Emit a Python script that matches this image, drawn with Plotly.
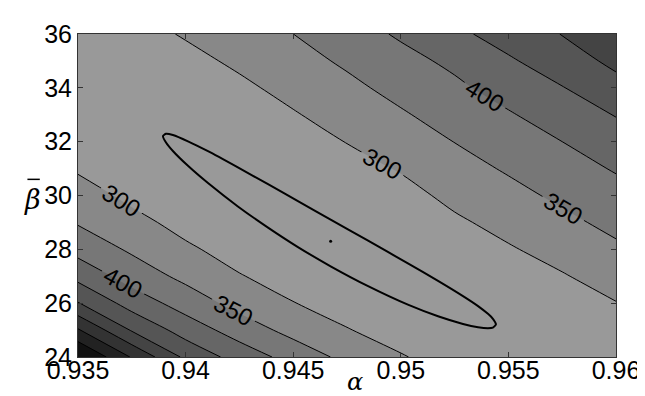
import plotly.graph_objects as go

# ---- data ----
alpha_vals = [0.935, 0.9375, 0.94, 0.9425, 0.945, 0.9475, 0.95, 0.9525, 0.955, 0.9575, 0.96]
beta_vals = [24, 25, 26, 27, 28, 29, 30, 31, 32, 33, 34, 35, 36]

# objective value on the grid, rows = beta (24 -> 36), columns = alpha
z_rows = [
    [710.0, 595.8, 489.4, 428.8, 381.3, 336.1, 303.3, 280.5, 257.3, 233.8, 250.8],
    [605.0, 495.6, 428.1, 377.6, 333.8, 302.2, 281.1, 257.9, 234.1, 249.6, 274.7],
    [502.5, 429.0, 378.2, 333.3, 301.3, 281.0, 260.3, 235.5, 249.0, 273.0, 298.5],
    [434.8, 379.0, 337.4, 302.5, 281.2, 260.5, 239.4, 247.1, 272.2, 296.5, 320.3],
    [383.3, 342.6, 307.1, 282.6, 261.6, 240.0, 241.5, 269.6, 295.4, 317.9, 341.9],
    [345.9, 313.1, 285.7, 263.8, 242.1, 240.4, 262.3, 292.1, 315.7, 338.8, 362.7],
    [319.2, 289.9, 267.0, 245.0, 237.6, 260.8, 283.2, 312.5, 335.5, 359.5, 383.1],
    [294.8, 271.3, 248.4, 234.1, 257.2, 281.3, 304.0, 331.7, 355.3, 379.8, 404.1],
    [276.0, 252.7, 230.0, 252.9, 276.7, 301.5, 324.3, 350.8, 375.4, 400.0, 427.8],
    [257.2, 234.0, 248.9, 271.7, 296.3, 320.0, 344.7, 370.7, 395.6, 424.0, 452.2],
    [238.4, 244.6, 267.5, 290.5, 314.4, 338.5, 364.9, 390.6, 419.4, 448.1, 482.3],
    [240.4, 263.2, 286.1, 308.7, 332.2, 357.6, 384.8, 410.4, 444.2, 474.6, 512.3],
    [259.0, 281.8, 304.3, 326.2, 349.9, 378.2, 406.3, 439.7, 469.2, 501.5, 542.4],
]

level_start = 300
level_end = 650
level_step = 50

# confidence region outline (alpha, beta)
region_alpha = [0.93895, 0.93909, 0.93941, 0.94011, 0.94104, 0.94243, 0.94383, 0.94522,
                0.94676, 0.94848, 0.95033, 0.95173, 0.95289, 0.95359, 0.95405, 0.95428,
                0.95442,
                0.95428, 0.95405, 0.95359, 0.95289, 0.95173, 0.95033, 0.94848, 0.94676,
                0.94522, 0.94383, 0.94243, 0.94104, 0.94011, 0.93941, 0.93909, 0.93895]
region_beta = [32.209, 32.293, 32.245, 32.013, 31.646, 31.043, 30.419, 29.790,
               29.096, 28.321, 27.477, 26.830, 26.263, 25.892, 25.603, 25.420,
               25.211,
               25.095, 25.072, 25.108, 25.229, 25.514, 25.945, 26.633, 27.361,
               28.084, 28.807, 29.593, 30.461, 31.102, 31.652, 31.968, 32.209]

best_alpha = [0.94674]
best_beta = [28.30]

x_tick_vals = [0.935, 0.94, 0.945, 0.95, 0.955, 0.96]
x_tick_text = ["0.935", "0.94", "0.945", "0.95", "0.955", "0.96"]
y_tick_vals = [24, 26, 28, 30, 32, 34, 36]
y_tick_text = ["24", "26", "28", "30", "32", "34", "36"]

# ---- figure ----
fig = go.Figure()

fig.add_trace(go.Contour(
    x=alpha_vals, y=beta_vals, z=z_rows,
    autocontour=False,
    contours=dict(start=level_start, end=level_end, size=level_step,
                  coloring="fill", showlabels=True,
                  labelfont=dict(family="Liberation Sans", size=24, color="black")),
    line=dict(color="black", width=1, smoothing=1),
    colorscale=[[0, "rgb(153,153,153)"], [1, "rgb(17,17,17)"]],
    showscale=False, hoverinfo="skip",
))

fig.add_trace(go.Scatter(
    x=region_alpha, y=region_beta, mode="lines",
    line=dict(color="black", width=2, shape="spline", smoothing=0.6),
    showlegend=False, hoverinfo="skip",
))

fig.add_trace(go.Scatter(
    x=best_alpha, y=best_beta, mode="markers",
    marker=dict(color="black", size=3, symbol="circle"),
    showlegend=False, hoverinfo="skip",
))

axis_common = dict(
    showline=True, linecolor="#333333", linewidth=1, mirror="ticks",
    ticks="inside", ticklen=5, tickcolor="#333333",
    showgrid=False, zeroline=False,
    tickfont=dict(family="Liberation Sans", size=25, color="black"),
)

fig.update_layout(
    width=645, height=396,
    margin=dict(l=70, r=37, t=17, b=47),
    paper_bgcolor="white", plot_bgcolor="white",
    xaxis=dict(range=[0.935, 0.96], tickvals=x_tick_vals, ticktext=x_tick_text,
               ticklabelstandoff=-9, **axis_common),
    yaxis=dict(range=[24, 36], tickvals=y_tick_vals, ticktext=y_tick_text, **axis_common),
    showlegend=False,
    annotations=[
        dict(text="<i>α</i>", xref="paper", yref="paper", x=0.515, y=-0.078,
             showarrow=False, xanchor="center", yanchor="middle",
             font=dict(family="DejaVu Serif", size=24, color="black")),
        dict(text="<i>β</i>", xref="paper", yref="paper", x=-0.084, y=0.488,
             showarrow=False, xanchor="center", yanchor="middle",
             font=dict(family="DejaVu Serif", size=27, color="black")),
    ],
    shapes=[
        dict(type="line", xref="paper", yref="paper", x0=-0.094, x1=-0.071,
             y0=0.55, y1=0.55, line=dict(color="black", width=1.5)),
    ],
)

fig.write_html("out.html")
